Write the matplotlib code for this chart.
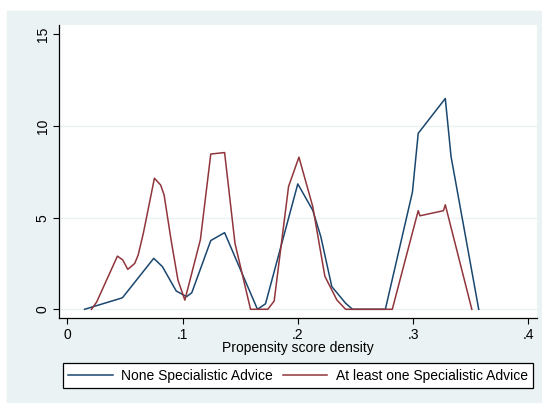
import matplotlib
matplotlib.use("Agg")
import matplotlib.pyplot as plt
from matplotlib.patches import Rectangle
from matplotlib.lines import Line2D

plt.rcParams['font.family'] = ['Liberation Sans', 'DejaVu Sans']

# propensity score (x) and density (y)
none_x = [0.015, 0.0465, 0.048, 0.075, 0.0825, 0.0945, 0.1035, 0.108, 0.1245, 0.1365,
          0.165, 0.172, 0.200, 0.213, 0.220, 0.2295, 0.2415, 0.2475, 0.276, 0.2995,
          0.3045, 0.328, 0.333, 0.357]
none_y = [0.0, 0.6, 0.64, 2.78, 2.33, 1.0, 0.69, 0.9, 3.75, 4.18,
          0.0, 0.3, 6.84, 5.4, 3.96, 1.24, 0.33, 0.0, 0.0, 6.4,
          9.6, 11.5, 8.33, 0.0]

some_x = [0.021, 0.0255, 0.0435, 0.048, 0.0525, 0.0585, 0.0615, 0.066, 0.0756, 0.081,
          0.084, 0.090, 0.096, 0.102, 0.1155, 0.1245, 0.1365, 0.1455, 0.159, 0.174,
          0.1795, 0.192, 0.201, 0.213, 0.2235, 0.234, 0.2415, 0.282, 0.3045, 0.306,
          0.3264, 0.328, 0.351]
some_y = [0.0, 0.4, 2.9, 2.7, 2.18, 2.5, 2.96, 4.15, 7.15, 6.78,
          6.24, 3.8, 1.6, 0.5, 3.8, 8.47, 8.55, 3.6, 0.0, 0.0,
          0.45, 6.7, 8.3, 5.6, 1.8, 0.5, 0.0, 0.0, 5.38, 5.1,
          5.38, 5.7, 0.0]

xticks = [0, 0.1, 0.2, 0.3, 0.4]
xticklabels = ['0', '.1', '.2', '.3', '.4']
yticks = [0, 5, 10, 15]

bg = '#EAF2F3'
navy = '#1A476F'
maroon = '#90353B'
fs = 10

fig = plt.figure(figsize=(5.42, 4.03), dpi=100, facecolor='white')
fig.patches.append(Rectangle((7 / 542, 0), 1, (403 - 11) / 403,
                             transform=fig.transFigure, color=bg, zorder=-10))

ax = fig.add_axes([0.1094, 0.2102, 0.8808, 0.7278])
ax.set_facecolor('white')
ax.plot(none_x, none_y, color=navy, lw=1.1, label='None Specialistic Advice')
ax.plot(some_x, some_y, color=maroon, lw=1.1, label='At least one Specialistic Advice')

ax.set_xlim(-0.00694, 0.4073)
ax.set_ylim(-0.491, 15.51)
ax.set_xticks(xticks)
ax.set_xticklabels(xticklabels)
ax.set_yticks(yticks)
ax.set_yticklabels([str(v) for v in yticks], rotation=90, va='center')
ax.tick_params(labelsize=fs, length=4, width=0.8, color='black', pad=3)
for s in ['top', 'right']:
    ax.spines[s].set_visible(False)
for s in ['left', 'bottom']:
    ax.spines[s].set_linewidth(0.9)
for v in [0, 5, 10]:
    ax.axhline(v, color=bg, lw=1.0, zorder=0)

fig.text(0.5498, 0.1357, 'Propensity score density', ha='center', va='center', fontsize=fs)

handles = [Line2D([], [], color=navy, lw=1.1), Line2D([], [], color=maroon, lw=1.1)]
labels = ['None Specialistic Advice', 'At least one Specialistic Advice']
leg = fig.legend(handles, labels, ncol=2, loc='center', bbox_to_anchor=(0.5498, 0.0682),
                 fontsize=fs, frameon=True, fancybox=False, edgecolor='black',
                 handlelength=3.2, handletextpad=0.6, columnspacing=0.7,
                 borderpad=0.4, borderaxespad=0)
leg.get_frame().set_linewidth(0.9)
leg.get_frame().set_facecolor('white')
leg.get_frame().set_alpha(1)

fig.savefig('out.png', dpi=100, facecolor=fig.get_facecolor())
